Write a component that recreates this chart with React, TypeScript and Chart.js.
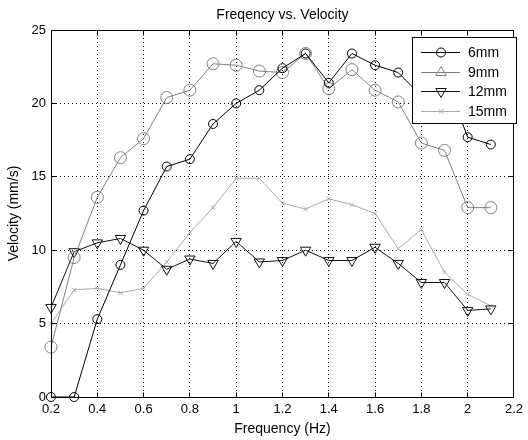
import React, { useEffect, useRef } from "react";
import { Chart, registerables } from "chart.js";

Chart.register(...registerables);

const freq = [0.2, 0.3, 0.4, 0.5, 0.6, 0.7, 0.8, 0.9, 1.0, 1.1, 1.2, 1.3, 1.4, 1.5, 1.6, 1.7, 1.8, 1.9, 2.0, 2.1];
const v6mm = [0, 0, 5.3, 9.0, 12.7, 15.7, 16.2, 18.6, 20.0, 20.9, 22.4, 23.4, 21.4, 23.4, 22.6, 22.1, 20.5, 21.9, 17.7, 17.2];
const v9mm = [3.4, 9.5, 13.6, 16.3, 17.6, 20.4, 20.9, 22.7, 22.6, 22.2, 22.1, 23.4, 21.0, 22.3, 20.9, 20.1, 17.3, 16.8, 12.9, 12.9];
const v12mm = [6.1, 9.9, 10.5, 10.8, 10.0, 8.7, 9.4, 9.1, 10.6, 9.2, 9.3, 10.0, 9.3, 9.3, 10.2, 9.1, 7.8, 7.8, 5.9, 6.0];
const v15mm = [5.0, 7.3, 7.4, 7.1, 7.4, 9.2, 11.2, 12.9, 14.9, 14.9, 13.2, 12.8, 13.5, 13.1, 12.5, 10.1, 11.4, 8.5, 7.0, 6.2];

const seriesLabels = ["6mm", "9mm", "12mm", "15mm"];
const seriesValues = [v6mm, v9mm, v12mm, v15mm];
const seriesColors = ["#000000", "#808080", "#111111", "#aaaaaa"];
const seriesMarkers = ["circle", "triangle", "triangleDown", "cross"];

const titleText = "Freqency vs. Velocity";
const xTitle = "Frequency (Hz)";
const yTitle = "Velocity (mm/s)";

const FONT = '"Liberation Sans", Arial, Helvetica, sans-serif';

function drawMarker(ctx: CanvasRenderingContext2D, kind: string, x: number, y: number, color: string) {
  ctx.save();
  ctx.strokeStyle = color;
  ctx.fillStyle = "#ffffff";
  ctx.lineWidth = 1;
  ctx.beginPath();
  if (kind === "circle") {
    ctx.arc(x, y, 4.5, 0, Math.PI * 2);
    ctx.stroke();
  } else if (kind === "triangle" || kind === "triangleDown") {
    const r = 6;
    const s = kind === "triangle" ? 1 : -1;
    ctx.moveTo(x, y - s * r);
    ctx.lineTo(x + r * Math.sin(Math.PI / 3), y + s * r * 0.5);
    ctx.lineTo(x - r * Math.sin(Math.PI / 3), y + s * r * 0.5);
    ctx.closePath();
    ctx.stroke();
  } else {
    const r = 2.5;
    ctx.moveTo(x - r, y - r);
    ctx.lineTo(x + r, y + r);
    ctx.moveTo(x + r, y - r);
    ctx.lineTo(x - r, y + r);
    ctx.stroke();
  }
  ctx.restore();
}

const decorPlugin = {
  id: "decor",
  afterDraw(chart: any) {
    const { ctx, chartArea: a, scales } = chart;
    const al = (v: number) => Math.round(v - 0.5) + 0.5;
    const L = al(a.left), R = al(a.right), T = al(a.top), B = al(a.bottom);
    ctx.save();
    ctx.strokeStyle = "#000";
    ctx.lineWidth = 1;
    ctx.beginPath();
    ctx.rect(L, T, R - L, B - T);
    ctx.stroke();
    // inward ticks
    ctx.beginPath();
    for (const t of scales.x.ticks) {
      const px = al(scales.x.getPixelForValue(t.value));
      ctx.moveTo(px, B);
      ctx.lineTo(px, B - 5);
      ctx.moveTo(px, T);
      ctx.lineTo(px, T + 5);
    }
    for (const t of scales.y.ticks) {
      const py = al(scales.y.getPixelForValue(t.value));
      ctx.moveTo(L, py);
      ctx.lineTo(L + 5, py);
      ctx.moveTo(R, py);
      ctx.lineTo(R - 5, py);
    }
    ctx.stroke();

    // legend
    const lx = 412.5, ly = 37.5, lw = 104, lh = 86;
    ctx.fillStyle = "#ffffff";
    ctx.fillRect(lx, ly, lw, lh);
    ctx.strokeStyle = "#000";
    ctx.strokeRect(lx, ly, lw, lh);
    ctx.font = `14px ${FONT}`;
    ctx.textBaseline = "middle";
    ctx.textAlign = "left";
    seriesLabels.forEach((lab, i) => {
      const y = Math.round(52 + i * 19.7) + 0.5;
      ctx.strokeStyle = seriesColors[i];
      ctx.beginPath();
      ctx.moveTo(421, y);
      ctx.lineTo(460, y);
      ctx.stroke();
      drawMarker(ctx, seriesMarkers[i], 441, y, seriesColors[i]);
      ctx.fillStyle = "#000";
      ctx.fillText(lab, 468, y + 1);
    });

    // titles
    ctx.fillStyle = "#000";
    ctx.textAlign = "center";
    ctx.textBaseline = "middle";
    ctx.font = `14px ${FONT}`;
    const cx = (a.left + a.right) / 2;
    ctx.fillText(titleText, cx, 15);
    ctx.fillText(xTitle, cx, 429);
    ctx.save();
    ctx.translate(14, (a.top + a.bottom) / 2);
    ctx.rotate(-Math.PI / 2);
    ctx.fillText(yTitle, 0, 0);
    ctx.restore();
    ctx.restore();
  },
};

export default function App() {
  const ref = useRef<HTMLCanvasElement | null>(null);
  useEffect(() => {
    if (!ref.current) return;
    const datasets = seriesLabels.map((lab, i) => {
      const m = seriesMarkers[i];
      return {
        label: lab,
        data: freq.map((x, j) => ({ x, y: seriesValues[i][j] })),
        borderColor: seriesColors[i],
        backgroundColor: "rgba(0,0,0,0)",
        borderWidth: 1,
        pointStyle: m === "triangleDown" ? "triangle" : m === "cross" ? "crossRot" : "circle",
        pointRotation: m === "triangleDown" ? 180 : 0,
        pointRadius: m === "circle" ? 4.5 : m === "cross" ? 3 : 6,
        pointBorderColor: seriesColors[i],
        pointBackgroundColor: "rgba(0,0,0,0)",
        pointBorderWidth: 1,
        tension: 0,
        fill: false,
        clip: false as any,
      };
    });
    const chart = new Chart(ref.current, {
      type: "line",
      data: { datasets },
      options: {
        animation: false,
        responsive: false,
        devicePixelRatio: 1,
        layout: { padding: { left: 0, right: 9, top: 30, bottom: 0 } },
        plugins: { legend: { display: false }, title: { display: false }, tooltip: { enabled: false } },
        scales: {
          x: {
            type: "linear",
            min: 0.2,
            max: 2.2,
            ticks: {
              stepSize: 0.2,
              autoSkip: false,
              maxRotation: 0,
              padding: 5,
              color: "#000",
              font: { family: FONT, size: 13 },
              callback: (v: any) => String(Number(Number(v).toFixed(1))),
            },
            grid: { color: "#000", lineWidth: 1, drawTicks: false },
            border: { display: true, color: "#000", dash: [1, 3] },
            afterFit: (s: any) => { s.height = 43; },
          } as any,
          y: {
            type: "linear",
            min: 0,
            max: 25,
            ticks: {
              stepSize: 5,
              autoSkip: false,
              padding: 5,
              color: "#000",
              font: { family: FONT, size: 13 },
            },
            grid: { color: "#000", lineWidth: 1, drawTicks: false },
            border: { display: true, color: "#000", dash: [1, 3] },
            afterFit: (s: any) => { s.width = 51; },
          } as any,
        },
      },
      plugins: [decorPlugin],
    });
    return () => chart.destroy();
  }, []);
  return (
    <div style={{ position: "absolute", left: 0, top: 0, width: 528, height: 440, background: "#fff" }}>
      <canvas ref={ref} width={528} height={440} />
    </div>
  );
}
